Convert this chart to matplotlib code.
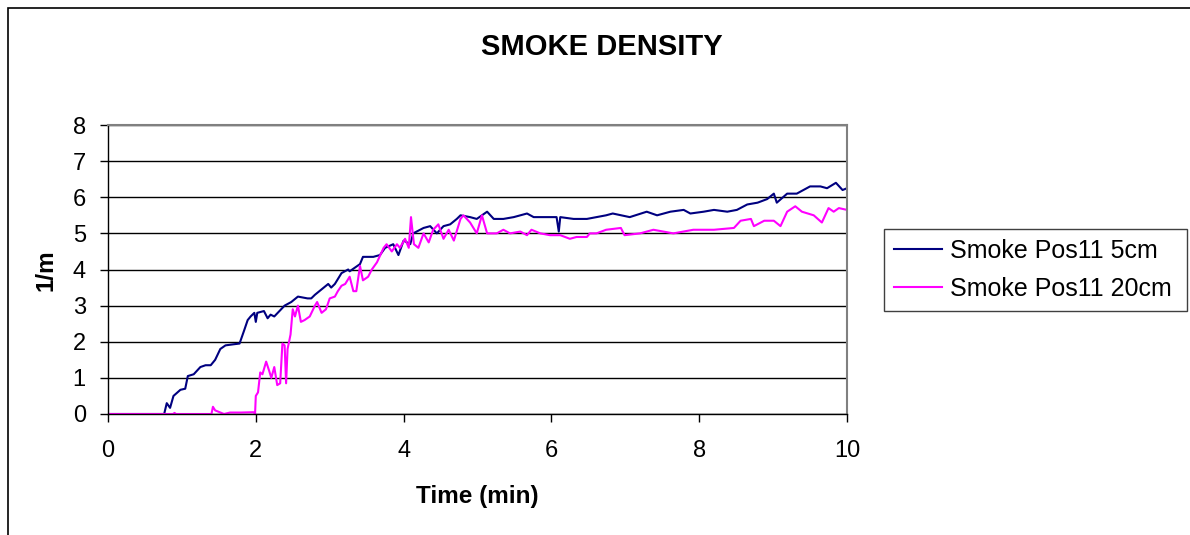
import matplotlib
matplotlib.use("Agg")
import matplotlib.pyplot as plt
from matplotlib.patches import Rectangle

plt.rcParams['font.family'] = ['Liberation Sans', 'DejaVu Sans']

# ---- data ----
t_5cm = [0.0, 0.76, 0.795, 0.84, 0.886, 0.98, 1.045, 1.08, 1.16, 1.25, 1.32, 1.39, 1.45, 1.52, 1.59,
         1.70, 1.78, 1.84, 1.89, 1.93, 1.98, 2.0, 2.02, 2.11, 2.16, 2.2, 2.25, 2.32, 2.39, 2.48,
         2.57, 2.7, 2.75, 2.8, 2.89, 2.98, 3.02, 3.07, 3.16, 3.25, 3.27, 3.34, 3.41, 3.45, 3.59,
         3.68, 3.75, 3.86, 3.93, 4.0, 4.09, 4.13, 4.27, 4.36, 4.45, 4.54, 4.63, 4.72, 4.77, 4.9,
         4.99, 5.13, 5.22, 5.35, 5.49, 5.67, 5.76, 5.94, 6.07, 6.1, 6.12, 6.3, 6.48, 6.61, 6.74,
         6.83, 7.06, 7.29, 7.43, 7.61, 7.79, 7.88, 8.06, 8.2, 8.38, 8.51, 8.65, 8.79, 8.92, 9.01,
         9.05, 9.19, 9.32, 9.5, 9.64, 9.73, 9.85, 9.94, 10.0]
v_5cm = [0.0, 0.0, 0.3, 0.17, 0.5, 0.67, 0.7, 1.05, 1.1, 1.3, 1.35, 1.35, 1.5, 1.8, 1.9,
         1.93, 1.95, 2.3, 2.6, 2.7, 2.8, 2.55, 2.8, 2.85, 2.65, 2.75, 2.7, 2.85, 3.0, 3.1,
         3.25, 3.2, 3.2, 3.3, 3.45, 3.6, 3.5, 3.6, 3.9, 4.0, 3.95, 4.05, 4.15, 4.35, 4.35,
         4.4, 4.6, 4.7, 4.4, 4.8, 4.7, 5.0, 5.15, 5.2, 5.0, 5.2, 5.25, 5.4, 5.5, 5.45,
         5.4, 5.6, 5.4, 5.4, 5.45, 5.55, 5.45, 5.45, 5.45, 5.05, 5.45, 5.4, 5.4, 5.45, 5.5,
         5.55, 5.45, 5.6, 5.5, 5.6, 5.65, 5.55, 5.6, 5.65, 5.6, 5.65, 5.8, 5.85, 5.95, 6.1,
         5.85, 6.1, 6.1, 6.3, 6.3, 6.25, 6.4, 6.2, 6.25]

t_20cm = [0.0, 0.88, 0.9, 0.92, 1.40, 1.42, 1.45, 1.57, 1.65, 1.8, 1.97, 1.99, 2.0, 2.03, 2.06,
          2.09, 2.14, 2.18, 2.21, 2.25, 2.29, 2.33, 2.36, 2.39, 2.41, 2.43, 2.47, 2.5, 2.53, 2.57,
          2.61, 2.66, 2.73, 2.8, 2.83, 2.89, 2.95, 3.0, 3.07, 3.11, 3.16, 3.21, 3.27, 3.32, 3.36,
          3.41, 3.45, 3.52, 3.57, 3.64, 3.73, 3.77, 3.84, 3.91, 3.95, 4.02, 4.07, 4.1, 4.14, 4.2,
          4.27, 4.34, 4.4, 4.47, 4.54, 4.61, 4.68, 4.77, 4.81, 4.9, 4.99, 5.06, 5.13, 5.26, 5.35,
          5.44, 5.58, 5.67, 5.73, 5.85, 5.98, 6.12, 6.25, 6.34, 6.48, 6.52, 6.61, 6.74, 6.94, 6.99,
          7.2, 7.38, 7.65, 7.92, 8.2, 8.47, 8.56, 8.7, 8.74, 8.88, 9.01, 9.1, 9.19, 9.3, 9.39,
          9.55, 9.66, 9.75, 9.82, 9.89, 10.0]
v_20cm = [0.0, 0.0, 0.03, 0.0, 0.0, 0.2, 0.1, 0.0, 0.04, 0.04, 0.05, 0.0, 0.5, 0.6, 1.15,
          1.1, 1.45, 1.2, 1.0, 1.3, 0.8, 0.85, 1.95, 1.9, 0.85, 1.8, 2.2, 2.9, 2.7, 3.0,
          2.55, 2.6, 2.7, 3.0, 3.1, 2.8, 2.9, 3.2, 3.25, 3.4, 3.55, 3.6, 3.8, 3.4, 3.4,
          4.1, 3.7, 3.8, 4.0, 4.2, 4.6, 4.7, 4.5, 4.7, 4.6, 4.85, 4.6, 5.45, 4.7, 4.6,
          5.0, 4.75, 5.1, 5.25, 4.85, 5.1, 4.8, 5.4, 5.5, 5.3, 5.0, 5.5, 5.0, 5.0, 5.1,
          5.0, 5.05, 4.95, 5.1, 5.0, 4.95, 4.95, 4.85, 4.9, 4.9, 5.0, 5.0, 5.1, 5.15, 4.95,
          5.0, 5.1, 5.0, 5.1, 5.1, 5.15, 5.35, 5.4, 5.2, 5.35, 5.35, 5.2, 5.6, 5.75, 5.6,
          5.5, 5.3, 5.7, 5.6, 5.7, 5.65]

series_labels = ["Smoke Pos11 5cm", "Smoke Pos11 20cm"]
x_ticks = [0, 2, 4, 6, 8, 10]
y_ticks = [0, 1, 2, 3, 4, 5, 6, 7, 8]

# ---- figure ----
W, H = 1190, 535
fig = plt.figure(figsize=(W / 100, H / 100), dpi=100)
fig.patch.set_facecolor('white')

# outer chart frame
fig.add_artist(Rectangle((8 / W, -0.05), 1.2, 1 - 8 / H + 0.05, transform=fig.transFigure,
                         fill=False, edgecolor='black', linewidth=1.2))

ax = fig.add_axes([108 / W, 1 - 414 / H, (847 - 108) / W, (414 - 125) / H])
ax.plot(t_5cm, v_5cm, color='#000080', lw=1.5, label=series_labels[0])
ax.plot(t_20cm, v_20cm, color='#FF00FF', lw=1.5, label=series_labels[1])

ax.set_xlim(0, 10)
ax.set_ylim(0, 8)
ax.set_xticks(x_ticks)
ax.set_yticks(y_ticks)
ax.tick_params(axis='both', direction='out', length=6, width=1, labelsize=17, colors='black')
ax.tick_params(axis='y', pad=10)
ax.tick_params(axis='x', pad=13)
ax.yaxis.grid(True, color='black', lw=1)
ax.set_axisbelow(True)
for s in ['left', 'bottom']:
    ax.spines[s].set_color('black')
    ax.spines[s].set_linewidth(1)
for s in ['top', 'right']:
    ax.spines[s].set_color('#808080')
    ax.spines[s].set_linewidth(1.5)

fig.text(477 / W, 1 - 497 / H, "Time (min)", ha='center', va='center', fontsize=17.5, fontweight='bold')
fig.text(46 / W, 1 - 270 / H, "1/m", ha='center', va='center', rotation=90, fontsize=17.5, fontweight='bold')
fig.text(602 / W, 1 - 47 / H, "SMOKE DENSITY", ha='center', va='center', fontsize=21, fontweight='bold')

leg = ax.legend(loc='center left', bbox_to_anchor=(884 / W, 1 - 311 / H, (1187 - 884) / W, (311 - 229) / H),
                bbox_transform=fig.transFigure, mode='expand', fontsize=18, frameon=True,
                fancybox=False, framealpha=1, edgecolor='#404040', handlelength=1.9,
                handletextpad=0.35, borderaxespad=0, borderpad=0.4, labelspacing=0.55)
leg.get_frame().set_linewidth(1)
for line in leg.get_lines():
    line.set_linewidth(1.5)

fig.savefig("out.png", dpi=100)
